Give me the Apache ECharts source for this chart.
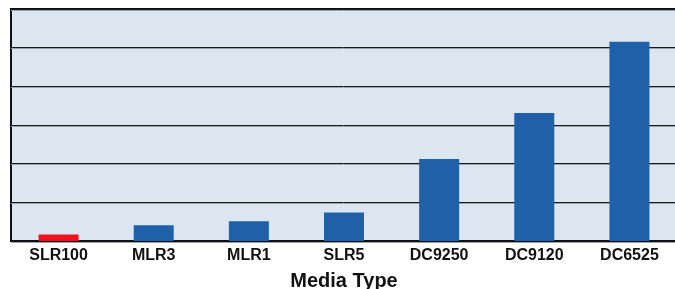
<!DOCTYPE html>
<html>
<head>
<meta charset="utf-8">
<script src="https://cdn.jsdelivr.net/npm/echarts@6/dist/echarts.min.js"></script>
<style>
  html, body { margin: 0; padding: 0; background: #fff; }
  #chart { width: 675px; height: 289px; }
</style>
</head>
<body>
<div id="chart"></div>
<script>
const mediaTypes = ['SLR100', 'MLR3', 'MLR1', 'SLR5', 'DC9250', 'DC9120', 'DC6525'];
const mediaValues = [0.17, 0.41, 0.51, 0.74, 2.12, 3.31, 5.15];
const highlighted = ['SLR100'];

const chart = echarts.init(document.getElementById('chart'));

chart.setOption({
  animation: false,
  backgroundColor: '#fff',
  grid: {
    left: 11, right: -2, top: 9, bottom: 48,
    outerBoundsMode: 'none',
    containLabel: false,
    show: true,
    backgroundColor: '#dce6f0',
    borderColor: '#111',
    borderWidth: 2
  },
  xAxis: {
    type: 'category',
    data: mediaTypes,
    name: 'Media Type',
    nameLocation: 'middle',
    nameGap: 30,
    nameTextStyle: { fontFamily: 'Liberation Sans', fontWeight: 'bold', fontSize: 20, color: '#111' },
    axisLine: { lineStyle: { color: '#111', width: 2 } },
    axisTick: { show: false },
    axisLabel: { fontFamily: 'Liberation Sans', fontWeight: 'bold', fontSize: 16, color: '#111', margin: 7 }
  },
  yAxis: {
    type: 'value',
    min: 0,
    max: 6,
    interval: 1,
    axisLabel: { show: false },
    axisLine: { show: false },
    axisTick: { show: false },
    splitLine: {
      lineStyle: { color: '#1a1a1a', width: 1, shadowColor: '#9aa3ad', shadowOffsetY: 1, shadowBlur: 0 }
    }
  },
  series: [{
    type: 'bar',
    barWidth: 40,
    data: mediaValues.map((v, i) => ({
      value: v,
      itemStyle: { color: highlighted.includes(mediaTypes[i]) ? '#f0101e' : '#1f60a8' }
    }))
  }]
});
window.addEventListener('resize', () => chart.resize());
</script>
</body>
</html>
